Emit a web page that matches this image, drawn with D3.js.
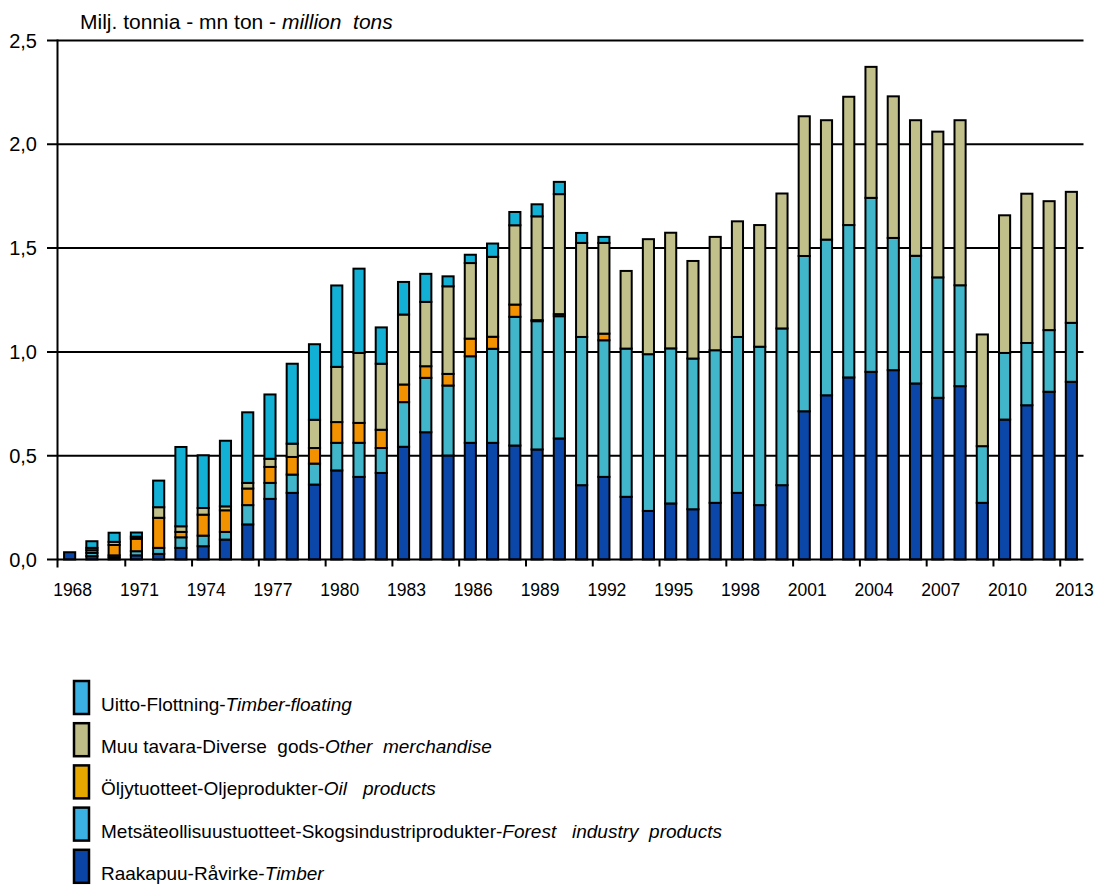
<!DOCTYPE html>
<html>
<head>
<meta charset="utf-8">
<script src="https://cdn.jsdelivr.net/npm/d3@7"></script>
<style>
  html, body { margin: 0; padding: 0; background: #fff; }
  svg { display: block; font-family: "Liberation Sans", Arial, sans-serif; }
  text { white-space: pre; }
</style>
</head>
<body>
<svg id="chart" width="1096" height="887"></svg>
<script>
const years = d3.range(1968, 2014).map(String);

const timber = [0.035,0.016,0.010,0.020,0.027,0.056,0.064,0.096,0.169,0.292,0.321,0.361,0.429,0.398,0.417,0.543,0.613,0.501,0.562,0.562,0.549,0.530,0.583,0.358,0.398,0.302,0.234,0.270,0.242,0.273,0.321,0.262,0.358,0.714,0.791,0.877,0.904,0.912,0.848,0.779,0.835,0.273,0.674,0.743,0.808,0.856];
const forest = [0,0.016,0.010,0.020,0.029,0.051,0.051,0.037,0.093,0.077,0.088,0.101,0.133,0.164,0.120,0.215,0.262,0.337,0.417,0.453,0.620,0.618,0.589,0.714,0.658,0.714,0.755,0.747,0.726,0.735,0.751,0.763,0.755,0.748,0.750,0.734,0.838,0.637,0.615,0.580,0.486,0.273,0.321,0.300,0.297,0.284];
const oil = [0,0.013,0.050,0.060,0.145,0.026,0.101,0.104,0.080,0.077,0.085,0.075,0.100,0.096,0.088,0.085,0.056,0.056,0.085,0.058,0.059,0.005,0.010,0,0.032,0,0,0,0,0,0,0,0,0,0,0,0,0,0,0,0,0,0,0,0,0];
const other = [0,0.011,0.015,0.010,0.051,0.027,0.032,0.019,0.027,0.039,0.064,0.136,0.266,0.337,0.318,0.337,0.310,0.422,0.364,0.385,0.382,0.500,0.578,0.453,0.437,0.374,0.554,0.557,0.470,0.546,0.557,0.586,0.650,0.673,0.575,0.618,0.631,0.682,0.653,0.702,0.795,0.538,0.663,0.719,0.621,0.631];
const floating = [0,0.032,0.044,0.020,0.128,0.382,0.254,0.316,0.340,0.310,0.385,0.364,0.392,0.406,0.175,0.157,0.135,0.048,0.040,0.064,0.064,0.058,0.059,0.048,0.029,0,0,0,0,0,0,0,0,0,0,0,0,0,0,0,0,0,0,0,0,0];

const seriesKeys = ["timber", "forest", "oil", "other", "floating"];
const seriesData = { timber, forest, oil, other, floating };
const barColors = { timber: "#0b47a9", forest: "#41b6ca", oil: "#f39200", other: "#c2c08a", floating: "#13b0d5" };

const yTicks = [0, 0.5, 1.0, 1.5, 2.0, 2.5];
const xTickYears = years.filter((yr, i) => i % 3 === 0);

const titleParts = ["Milj. tonnia - mn ton - ", "million  tons"];

const legendKeys = ["floating", "other", "oil", "forest", "timber"];
const legendNormal = ["Uitto-Flottning-", "Muu tavara-Diverse  gods-", "Öljytuotteet-Oljeprodukter-", "Metsäteollisuustuotteet-Skogsindustriprodukter-", "Raakapuu-Råvirke-"];
const legendItalic = ["Timber-floating", "Other  merchandise", "Oil   products", "Forest   industry  products", "Timber"];
const legendColors = { floating: "#3bb1e3", other: "#bebc87", oil: "#e6a700", forest: "#3bb1e3", timber: "#0a45a5" };

// ---- layout ----
const svg = d3.select("#chart");
const pLeft = 58.5, pRight = 1082.5, pTop = 40.5, pBottom = 559.5;

const x = d3.scaleBand().domain(years).range([pLeft, pRight]).paddingInner(0.5).paddingOuter(0.25);
const xb = d3.scaleBand().domain(years).range([pLeft, pRight]);
const y = d3.scaleLinear().domain([0, 2.5]).range([pBottom, pTop]);

// gridlines
svg.append("g").selectAll("line").data(yTicks.filter(d => d > 0)).join("line")
  .attr("x1", 47).attr("x2", pRight + 1)
  .attr("y1", d => y(d)).attr("y2", d => y(d))
  .attr("stroke", "#000").attr("stroke-width", 2);

// y tick labels
const fmt = d => d3.format(".1f")(d).replace(".", ",");
svg.append("g").selectAll("text").data(yTicks).join("text")
  .attr("x", 37).attr("y", d => y(d) + 7)
  .attr("text-anchor", "end").attr("font-size", 20).attr("fill", "#000")
  .text(fmt);
svg.append("line").attr("x1", 47).attr("x2", pLeft).attr("y1", y(0)).attr("y2", y(0))
  .attr("stroke", "#000").attr("stroke-width", 2);

// stacked bars
const table = years.map((yr, i) => {
  const o = { year: yr };
  seriesKeys.forEach(k => o[k] = seriesData[k][i]);
  return o;
});
const stacked = d3.stack().keys(seriesKeys)(table);
const gBars = svg.append("g");
stacked.forEach(layer => {
  gBars.append("g").selectAll("rect")
    .data(layer.filter(d => d[1] - d[0] > 0))
    .join("rect")
    .attr("x", d => x(d.data.year))
    .attr("width", x.bandwidth())
    .attr("y", d => y(d[1]))
    .attr("height", d => y(d[0]) - y(d[1]))
    .attr("fill", barColors[layer.key])
    .attr("stroke", "#000").attr("stroke-width", 2);
});

// axes lines
svg.append("line").attr("x1", pLeft - 1).attr("x2", pRight + 1).attr("y1", pBottom).attr("y2", pBottom)
  .attr("stroke", "#000").attr("stroke-width", 2);
svg.append("line").attr("x1", pLeft - 1).attr("x2", pLeft - 1).attr("y1", pTop - 1).attr("y2", pBottom + 8)
  .attr("stroke", "#000").attr("stroke-width", 2);

// x ticks at left edge of labelled categories
svg.append("g").selectAll("line").data(xTickYears.slice(1)).join("line")
  .attr("x1", d => xb(d)).attr("x2", d => xb(d))
  .attr("y1", pBottom).attr("y2", pBottom + 7)
  .attr("stroke", "#000").attr("stroke-width", 2);

svg.append("g").selectAll("text").data(xTickYears).join("text")
  .attr("x", d => xb(d) + xb.bandwidth() / 2 + 3)
  .attr("y", 596)
  .attr("text-anchor", "middle").attr("font-size", 17.5).attr("fill", "#000")
  .text(d => d);

// title
const title = svg.append("text").attr("x", 80).attr("y", 29).attr("font-size", 21).attr("fill", "#000");
title.append("tspan").text(titleParts[0]);
title.append("tspan").attr("font-style", "italic").text(titleParts[1]);

// legend
const lg = svg.append("g");
legendKeys.forEach((k, i) => {
  const yy = 681 + i * 42.2;
  lg.append("rect").attr("x", 74).attr("y", yy).attr("width", 15).attr("height", 33)
    .attr("fill", legendColors[k]).attr("stroke", "#000").attr("stroke-width", 2.5);
  const t = lg.append("text").attr("x", 101).attr("y", yy + 30).attr("font-size", 19).attr("fill", "#000");
  t.append("tspan").text(legendNormal[i]);
  t.append("tspan").attr("font-style", "italic").text(legendItalic[i]);
});
</script>
</body>
</html>
